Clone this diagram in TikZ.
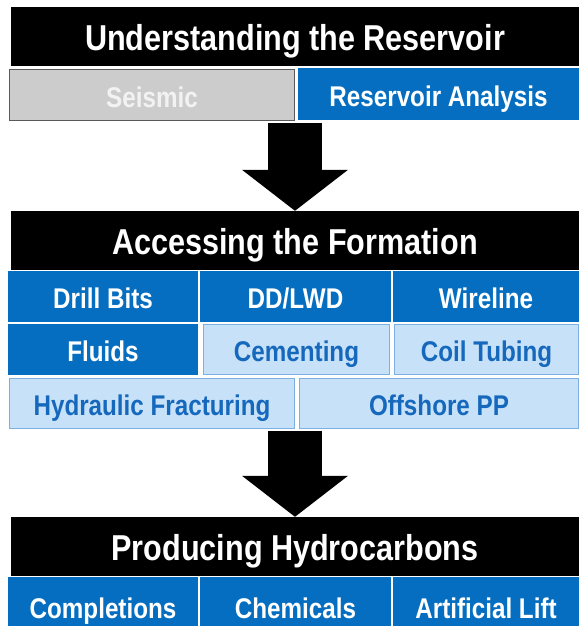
\documentclass[tikz,border=0pt]{standalone}
\usepackage{fontspec}
\setmainfont{Liberation Sans}[FakeStretch=0.85]
\usetikzlibrary{arrows.meta}
\definecolor{dblue}{RGB}{5,110,192}
\definecolor{lblue}{RGB}{199,226,248}
\definecolor{lline}{RGB}{125,176,226}
\definecolor{ltext}{RGB}{22,104,188}
\definecolor{gfill}{RGB}{204,204,204}
\tikzset{
  hdr/.style={fill=black, text=white, minimum width=568pt, minimum height=59pt,
    inner sep=0pt, text height=28pt, text depth=0pt, font=\bfseries\fontsize{36}{40}\selectfont},
  boxtext/.style={inner sep=0pt, text height=24pt, text depth=0pt,
    font=\bfseries\fontsize{28.5}{30}\selectfont},
  darkbox/.style={boxtext, fill=dblue, text=white, minimum height=51pt},
  lightbox/.style={boxtext, fill=lblue, draw=lline, line width=1pt, text=ltext, minimum height=50pt},
  greybox/.style={boxtext, fill=gfill, draw=black!65, line width=1.5pt, text=black!5, minimum height=51pt},
  bigarrow/.style={line width=54pt, shorten <=2pt,
    -{Triangle[width=106pt,length=41pt,line width=0pt]}}
}
\begin{document}
\begin{tikzpicture}[x=1pt,y=-1pt]
\clip (0,0) rectangle (579,626);
\fill[white] (0,0) rectangle (579,626);
% Understanding
\node[hdr] (under) at (295,37) {Understanding the Reservoir};
\node[greybox, minimum width=285pt] (seis) at (152,95) {Seismic};
\node[darkbox, minimum width=281pt, minimum height=52pt] (resan) at (438.5,94) {Reservoir Analysis};
% Accessing
\node[hdr] (access) at (295,240.5) {Accessing the Formation};
\node[darkbox, minimum width=190pt] (bits) at (103,296.5) {Drill Bits};
\node[darkbox, minimum width=191pt] (ddlwd) at (295.5,296.5) {DD/LWD};
\node[darkbox, minimum width=186pt] (wire) at (486,296.5) {Wireline};
\node[darkbox, minimum width=190pt] (fluids) at (103,349.5) {Fluids};
\node[lightbox, minimum width=186pt] (cement) at (296.5,349.5) {Cementing};
\node[lightbox, minimum width=184pt] (coil) at (486.5,349.5) {Coil Tubing};
\node[lightbox, minimum width=285pt] (hydfrac) at (152,403) {Hydraulic Fracturing};
\node[lightbox, minimum width=279pt] (offpp) at (439,403) {Offshore PP};
% Producing
\node[hdr] (produce) at (295,546.5) {Producing Hydrocarbons};
\node[darkbox, minimum width=190pt, minimum height=58pt] (compl) at (103,606) {Completions};
\node[darkbox, minimum width=191pt, minimum height=58pt] (chem) at (295.5,606) {Chemicals};
\node[darkbox, minimum width=186pt, minimum height=58pt] (lift) at (486,606) {Artificial Lift};
\draw[bigarrow] (access.north |- seis.south) -- (access.north);
\draw[bigarrow] (produce.north |- hydfrac.south) -- (produce.north);
\end{tikzpicture}
\end{document}
